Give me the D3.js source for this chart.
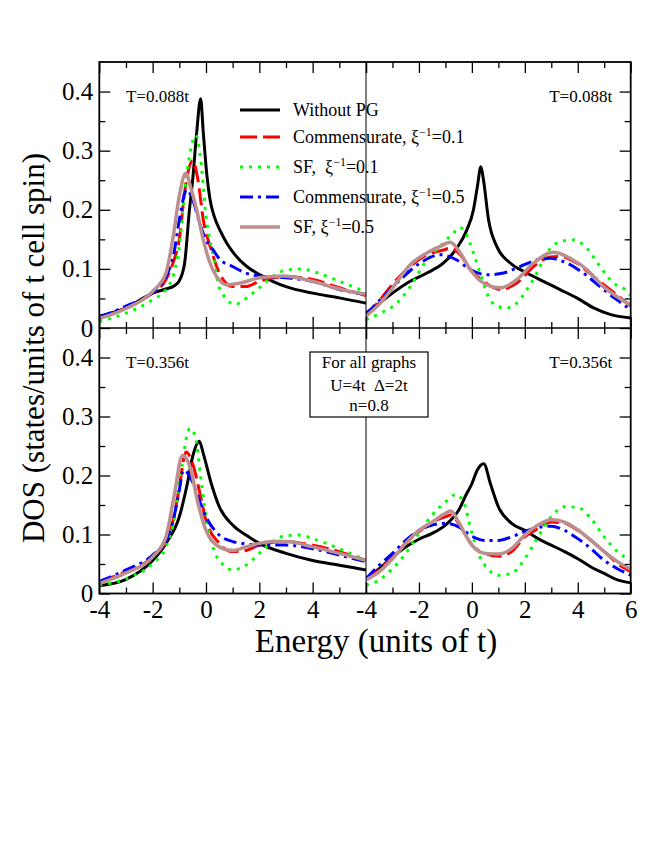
<!DOCTYPE html>
<html>
<head>
<meta charset="utf-8">
<script src="https://cdn.jsdelivr.net/npm/d3@7.9.0/dist/d3.min.js"></script>
<style>
  body { margin: 0; background: #fff; }
  svg text { font-family: "Liberation Serif", "Times New Roman", serif; fill: #000; }
</style>
</head>
<body>
<svg id="chart" width="664" height="860"></svg>
<script>
// [energy, DOS], one array per curve and panel
const tlBlack = [[-4,0.02],[-3,0.034],[-2,0.059],[-1.5,0.066],[-1.2,0.071],[-1,0.08],[-0.8,0.11],[-0.62,0.2],[-0.5,0.25],[-0.35,0.33],[-0.2,0.388],[-0.1,0.33],[0.03,0.26],[0.15,0.218],[0.3,0.19],[0.55,0.163],[0.8,0.142],[1.03,0.127],[1.53,0.104],[2.03,0.09],[2.5,0.079],[3,0.07],[4,0.059],[5,0.051],[6,0.042]];
const tlRed = [[-4,0.017],[-3,0.034],[-2,0.06],[-1.5,0.082],[-1.2,0.115],[-1,0.15],[-0.8,0.23],[-0.5,0.283],[-0.3,0.25],[-0.1,0.183],[0.2,0.132],[0.5,0.093],[1,0.07],[1.5,0.07],[2,0.079],[3,0.087],[4,0.082],[5,0.068],[6,0.055]];
const tlGreen = [[-4,0.011],[-3,0.025],[-2,0.048],[-1.5,0.065],[-1.2,0.093],[-1,0.138],[-0.8,0.23],[-0.38,0.326],[-0.2,0.285],[0,0.19],[0.3,0.115],[0.5,0.068],[1.1,0.04],[1.5,0.05],[2,0.068],[2.3,0.08],[3,0.098],[3.5,0.1],[4.2,0.093],[5,0.079],[6,0.061]];
const tlBlue = [[-4,0.018],[-3,0.037],[-2,0.06],[-1.5,0.087],[-1.2,0.127],[-1,0.183],[-0.72,0.234],[-0.5,0.217],[-0.2,0.172],[0,0.149],[0.3,0.13],[0.5,0.117],[1,0.104],[1.5,0.093],[2,0.088],[3,0.085],[4,0.079],[5,0.065],[6,0.057]];
const tlBrown = [[-4,0.016],[-3,0.033],[-2,0.062],[-1.5,0.093],[-1.25,0.149],[-1,0.223],[-0.76,0.262],[-0.55,0.234],[-0.35,0.2],[-0.1,0.149],[0.15,0.11],[0.4,0.087],[0.78,0.073],[1.3,0.076],[2,0.085],[2.9,0.088],[4,0.079],[5,0.066],[6,0.057]];

const trBlack = [[-4,0.025],[-3.58,0.039],[-3,0.059],[-2.33,0.079],[-1.7,0.093],[-1.07,0.11],[-0.57,0.135],[-0.19,0.166],[0.06,0.2],[0.21,0.24],[0.34,0.273],[0.44,0.25],[0.63,0.183],[0.94,0.138],[1.45,0.11],[2.08,0.093],[2.7,0.079],[3.33,0.065],[3.96,0.051],[4.6,0.034],[5.22,0.023],[6,0.017]];
const trRed = [[-4,0.02],[-3.46,0.048],[-2.96,0.076],[-2.33,0.104],[-1.7,0.124],[-1.07,0.132],[-0.82,0.135],[-0.44,0.124],[-0.06,0.099],[0.44,0.079],[1.07,0.065],[1.7,0.076],[2.33,0.104],[2.96,0.12],[3.33,0.121],[3.96,0.11],[4.6,0.087],[5.22,0.065],[6,0.037]];
const trGreen = [[-4,0.014],[-3.46,0.025],[-2.83,0.042],[-2.33,0.07],[-1.7,0.115],[-1.2,0.138],[-0.69,0.161],[-0.45,0.17],[-0.31,0.166],[0.06,0.127],[0.31,0.093],[0.57,0.059],[0.94,0.037],[1.32,0.034],[1.7,0.042],[2.08,0.065],[2.45,0.093],[2.83,0.127],[3.33,0.146],[3.84,0.149],[4.34,0.135],[4.84,0.104],[5.35,0.076],[5.79,0.065],[6,0.055]];
const trBlue = [[-4,0.023],[-3.46,0.048],[-2.7,0.082],[-1.95,0.11],[-1.2,0.124],[-0.57,0.115],[-0.06,0.099],[0.57,0.09],[1.2,0.093],[1.82,0.104],[2.45,0.115],[2.96,0.118],[3.58,0.11],[4.21,0.093],[4.84,0.07],[5.47,0.048],[6,0.031]];
const trBrown = [[-4,0.02],[-3.46,0.042],[-2.96,0.07],[-2.33,0.107],[-1.7,0.127],[-1.2,0.138],[-0.82,0.145],[-0.44,0.127],[-0.06,0.099],[0.44,0.076],[1.07,0.068],[1.7,0.082],[2.33,0.11],[3.08,0.128],[3.71,0.118],[4.34,0.099],[4.97,0.07],[6,0.039]];

const blBlack = [[-4,0.013],[-3,0.024],[-2,0.056],[-1.5,0.085],[-1,0.13],[-0.7,0.186],[-0.5,0.232],[-0.25,0.258],[-0.1,0.237],[0.2,0.186],[0.5,0.147],[1,0.116],[1.5,0.099],[2,0.085],[3,0.068],[4,0.056],[5,0.048],[6,0.04]];
const blRed = [[-4,0.02],[-3,0.037],[-2,0.062],[-1.5,0.09],[-1.2,0.13],[-1,0.18],[-0.75,0.24],[-0.5,0.22],[-0.2,0.164],[0,0.124],[0.5,0.085],[1,0.071],[1.5,0.073],[2,0.082],[3,0.088],[4,0.082],[5,0.071],[6,0.056]];
const blGreen = [[-4,0.014],[-3,0.025],[-2,0.051],[-1.5,0.079],[-1.2,0.124],[-1,0.186],[-0.6,0.28],[-0.4,0.266],[-0.2,0.198],[0,0.13],[0.3,0.073],[0.6,0.051],[1,0.04],[1.5,0.048],[2,0.068],[2.5,0.088],[3,0.098],[3.5,0.099],[4,0.093],[5,0.076],[6,0.056]];
const blBlue = [[-4,0.02],[-3,0.04],[-2,0.065],[-1.5,0.09],[-1.2,0.13],[-1,0.175],[-0.85,0.209],[-0.6,0.198],[-0.3,0.164],[0,0.13],[0.5,0.099],[1,0.088],[1.5,0.084],[2,0.082],[3,0.082],[4,0.076],[5,0.065],[6,0.054]];
const blBrown = [[-4,0.017],[-3,0.035],[-2,0.062],[-1.5,0.096],[-1.2,0.164],[-0.88,0.234],[-0.6,0.215],[-0.3,0.153],[0,0.107],[0.5,0.079],[1,0.073],[1.5,0.079],[2,0.085],[2.5,0.088],[3,0.088],[4,0.079],[5,0.068],[6,0.056]];

const brBlack = [[-4,0.025],[-3.5,0.042],[-3,0.062],[-2.5,0.079],[-2,0.092],[-1.5,0.102],[-1,0.116],[-0.5,0.141],[-0.2,0.169],[0,0.186],[0.2,0.209],[0.45,0.22],[0.7,0.186],[1,0.147],[1.5,0.119],[2,0.107],[2.5,0.093],[3,0.082],[3.5,0.071],[4,0.059],[4.5,0.045],[5,0.034],[5.5,0.023],[6,0.018]];
const brRed = [[-4,0.023],[-3.5,0.04],[-3,0.062],[-2.5,0.085],[-2,0.105],[-1.5,0.121],[-1,0.13],[-0.8,0.133],[-0.5,0.119],[-0.2,0.096],[0,0.082],[0.5,0.068],[1,0.063],[1.5,0.071],[2,0.096],[2.5,0.11],[3,0.121],[3.5,0.119],[4,0.107],[4.5,0.09],[5,0.071],[5.5,0.051],[6,0.037]];
const brGreen = [[-4,0.014],[-3.5,0.023],[-3,0.042],[-2.5,0.068],[-2,0.102],[-1.5,0.133],[-1,0.155],[-0.6,0.168],[-0.3,0.153],[0,0.102],[0.3,0.062],[0.6,0.042],[1,0.031],[1.5,0.034],[2,0.059],[2.5,0.096],[3,0.13],[3.5,0.147],[4,0.146],[4.5,0.127],[5,0.096],[5.5,0.071],[6,0.056]];
const brBlue = [[-4,0.025],[-3.5,0.048],[-3,0.068],[-2.5,0.09],[-2,0.107],[-1.5,0.116],[-1,0.119],[-0.5,0.113],[0,0.097],[0.5,0.09],[1,0.09],[1.5,0.096],[2,0.105],[2.5,0.112],[3,0.114],[3.5,0.107],[4,0.093],[4.5,0.076],[5,0.056],[5.5,0.042],[6,0.031]];
const brBrown = [[-4,0.023],[-3.5,0.037],[-3,0.059],[-2.5,0.085],[-2,0.107],[-1.5,0.121],[-1,0.136],[-0.8,0.14],[-0.5,0.121],[-0.2,0.096],[0,0.082],[0.5,0.068],[1,0.067],[1.5,0.076],[2,0.099],[2.5,0.116],[3,0.125],[3.5,0.121],[4,0.108],[4.5,0.09],[5,0.071],[5.5,0.054],[6,0.041]];

const xMajor = [-4, -2, 0, 2, 4, 6];
const xMinor = [-3, -1, 1, 3, 5];
const yMajor = [0, 0.1, 0.2, 0.3, 0.4];
const yMinor = [0.05, 0.15, 0.25, 0.35];
const legendNames = ['Without PG', 'Commensurate, ', 'SF,  ', 'Commensurate, ', 'SF, '];
const legendXi = [null, '0.1', '0.1', '0.5', '0.5'];

const styles = [
  { color: '#000000', width: 3, dash: null },
  { color: '#ff0000', width: 3, dash: '17,6' },
  { color: '#00ff00', width: 3, dash: '3,6' },
  { color: '#0000ff', width: 3, dash: '13,5,3,5' },
  { color: '#bc8f8f', width: 3.5, dash: null }
];

const svg = d3.select('#chart');

const xL = d3.scaleLinear().domain([-4, 6]).range([99.3, 366]);
const xR = d3.scaleLinear().domain([-4, 6]).range([366, 630.7]);
const yT = d3.scaleLinear().domain([0, 0.45]).range([328, 62]);
const yB = d3.scaleLinear().domain([0, 0.45]).range([593.5, 328]);

const panels = [
  { id: 'tl', x: xL, y: yT, series: [tlBlack, tlRed, tlGreen, tlBlue, tlBrown], side: 'left', bottomLabels: false, label: 'T=0.088t' },
  { id: 'tr', x: xR, y: yT, series: [trBlack, trRed, trGreen, trBlue, trBrown], side: 'right', bottomLabels: false, label: 'T=0.088t' },
  { id: 'bl', x: xL, y: yB, series: [blBlack, blRed, blGreen, blBlue, blBrown], side: 'left', bottomLabels: true, label: 'T=0.356t' },
  { id: 'br', x: xR, y: yB, series: [brBlack, brRed, brGreen, brBlue, brBrown], side: 'right', bottomLabels: true, label: 'T=0.356t' }
];

function styleAxis(g) {
  g.select('.domain').remove();
  g.selectAll('.tick line').attr('stroke', '#000').attr('stroke-width', 1.3);
  g.selectAll('.tick text').style('font-size', '25px').attr('fill', '#000');
}

panels.forEach(p => {
  const [x0, x1] = p.x.range();
  const [yb, yt] = p.y.range();

  svg.append('clipPath').attr('id', 'clip-' + p.id)
    .append('rect').attr('x', x0).attr('y', yt).attr('width', x1 - x0).attr('height', yb - yt);

  const line = d3.line()
    .x(d => p.x(d[0]))
    .y(d => p.y(d[1]))
    .curve(d3.curveMonotoneX);

  const g = svg.append('g').attr('clip-path', `url(#clip-${p.id})`);
  p.series.forEach((s, i) => {
    const st = styles[i];
    g.append('path')
      .datum(s)
      .attr('d', line)
      .attr('fill', 'none')
      .attr('stroke', st.color)
      .attr('stroke-width', st.width)
      .attr('stroke-dasharray', st.dash)
      .attr('stroke-linejoin', 'round');
  });

  // bottom edge
  const xLabels = p.bottomLabels
    ? (p.side === 'left' ? xMajor.filter(v => v !== 6) : xMajor)
    : [];
  svg.append('g').attr('transform', `translate(0,${yb})`)
    .call(d3.axisBottom(p.x).tickValues(xMajor).tickSize(-11).tickPadding(7)
      .tickFormat(v => xLabels.includes(v) ? String(v) : ''))
    .call(styleAxis);
  svg.append('g').attr('transform', `translate(0,${yb})`)
    .call(d3.axisBottom(p.x).tickValues(xMinor).tickSize(-6).tickFormat(''))
    .call(styleAxis);

  // top edge
  svg.append('g').attr('transform', `translate(0,${yt})`)
    .call(d3.axisTop(p.x).tickValues(xMajor).tickSize(-11).tickFormat(''))
    .call(styleAxis);
  svg.append('g').attr('transform', `translate(0,${yt})`)
    .call(d3.axisTop(p.x).tickValues(xMinor).tickSize(-6).tickFormat(''))
    .call(styleAxis);

  if (p.side === 'left') {
    svg.append('g').attr('transform', `translate(${x0},0)`)
      .call(d3.axisLeft(p.y).tickValues(yMajor).tickSize(-11).tickPadding(6)
        .tickFormat(v => v === 0 ? '0' : d3.format('.1f')(v)))
      .call(styleAxis);
    svg.append('g').attr('transform', `translate(${x0},0)`)
      .call(d3.axisLeft(p.y).tickValues(yMinor).tickSize(-6).tickFormat(''))
      .call(styleAxis);
  } else {
    svg.append('g').attr('transform', `translate(${x1},0)`)
      .call(d3.axisRight(p.y).tickValues(yMajor).tickSize(-11).tickFormat(''))
      .call(styleAxis);
    svg.append('g').attr('transform', `translate(${x1},0)`)
      .call(d3.axisRight(p.y).tickValues(yMinor).tickSize(-6).tickFormat(''))
      .call(styleAxis);
  }

  // temperature label
  const lt = svg.append('text')
    .attr('y', p.y(0.4) + 10)
    .style('font-size', '17px')
    .text(p.label);
  if (p.side === 'left') lt.attr('x', p.x(-3.0));
  else lt.attr('x', p.x(5.3)).attr('text-anchor', 'end');
});

// frame and dividers
svg.append('rect')
  .attr('x', xL.range()[0]).attr('y', yT.range()[1])
  .attr('width', xR.range()[1] - xL.range()[0])
  .attr('height', yB.range()[0] - yT.range()[1])
  .attr('fill', 'none').attr('stroke', '#000').attr('stroke-width', 1.8);
svg.append('line')
  .attr('x1', xL.range()[0]).attr('x2', xR.range()[1])
  .attr('y1', yT.range()[0]).attr('y2', yT.range()[0])
  .attr('stroke', '#000').attr('stroke-width', 1.5);
svg.append('line')
  .attr('x1', xL.range()[1]).attr('x2', xL.range()[1])
  .attr('y1', yT.range()[1]).attr('y2', yB.range()[0])
  .attr('stroke', '#000').attr('stroke-width', 1);

// legend
const legend = svg.append('g');
const rowY = [110, 137, 167, 197, 227];
legendNames.forEach((name, i) => {
  const st = styles[i];
  legend.append('line')
    .attr('x1', 240).attr('x2', 280)
    .attr('y1', rowY[i]).attr('y2', rowY[i])
    .attr('stroke', st.color)
    .attr('stroke-width', st.width)
    .attr('stroke-dasharray', st.dash);
  const t = legend.append('text')
    .attr('x', 293).attr('y', rowY[i] + 6)
    .style('font-size', '18px')
    .style('white-space', 'pre');
  t.append('tspan').text(name);
  if (legendXi[i]) {
    t.append('tspan').text('ξ');
    t.append('tspan').attr('dy', -7).style('font-size', '12px').text('−1');
    t.append('tspan').attr('dy', 7).text('=' + legendXi[i]);
  }
});

// parameter box
svg.append('rect')
  .attr('x', 310).attr('y', 352).attr('width', 118).attr('height', 65)
  .attr('fill', '#fff').attr('stroke', '#000').attr('stroke-width', 1.2);
const boxLines = ['For all graphs', 'U=4t  Δ=2t', 'n=0.8'];
const boxY = [368, 391, 411];
boxLines.forEach((s, i) => {
  svg.append('text')
    .attr('x', 369).attr('y', boxY[i])
    .attr('text-anchor', 'middle')
    .style('font-size', '17px')
    .style('white-space', 'pre')
    .text(s);
});

// axis titles
svg.append('text')
  .attr('x', 376).attr('y', 652)
  .attr('text-anchor', 'middle')
  .style('font-size', '33px')
  .text('Energy (units of t)');
svg.append('text')
  .attr('transform', 'translate(44,348) rotate(-90)')
  .attr('text-anchor', 'middle')
  .style('font-size', '31px')
  .text('DOS (states/units of t cell spin)');
</script>
</body>
</html>
